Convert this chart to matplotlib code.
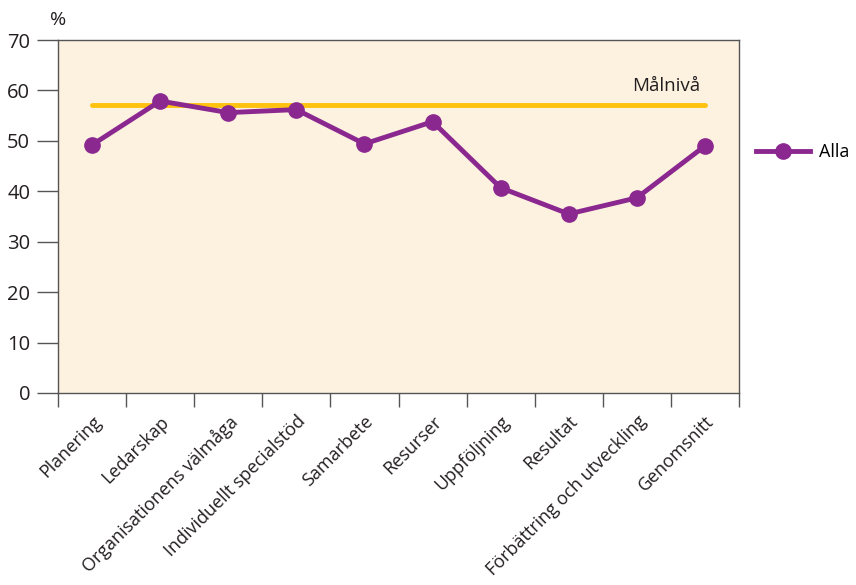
import matplotlib
matplotlib.use("Agg")
import matplotlib.pyplot as plt
from matplotlib.lines import Line2D

plt.rcParams['font.family'] = ['Open Sans', 'DejaVu Sans']

categories = ["Planering", "Ledarskap", "Organisationens välmåga", "Individuellt specialstöd",
              "Samarbete", "Resurser", "Uppföljning", "Resultat",
              "Förbättring och utveckling", "Genomsnitt"]
alla = [49.2, 57.9, 55.6, 56.2, 49.4, 53.8, 40.7, 35.5, 38.7, 49.0]
malniva = 57.1
yticks = [0, 10, 20, 30, 40, 50, 60, 70]

purple = "#8B2890"
gold = "#FFC20E"
bg = "#FDF1DF"
grey = "#555555"
textc = "#231F20"

fig = plt.figure(figsize=(8.56, 5.85), dpi=100)
ax = fig.add_axes([58/856, 1-393/585, (739-58)/856, (393-40)/585])
ax.set_facecolor(bg)

x = list(range(len(categories)))
ax.plot([x[0], x[-1]], [malniva, malniva], color=gold, lw=3.5, solid_capstyle='round', zorder=2)
line, = ax.plot(x, alla, color=purple, lw=3.5, marker='o', ms=11, zorder=3, label="Alla")
ax.text(x[-1] - 0.07, malniva + 1.9, "Målnivå", ha='right', va='bottom', fontsize=13.5, color=textc)

ax.set_xlim(-0.5, len(categories) - 0.5)
ax.set_ylim(0, 70)
ax.set_yticks(yticks)
ax.set_yticklabels([str(t) for t in yticks], fontsize=14.5, color=textc)
ax.set_xticks([i - 0.5 for i in range(len(categories) + 1)])
ax.set_xticklabels([])
ax.set_xticks(x, minor=True)
ax.set_xticklabels(categories, minor=True, rotation=45, ha='right', rotation_mode='anchor',
                   fontsize=13, color=textc)
ax.tick_params(axis='x', which='minor', length=0, pad=14)
ax.tick_params(axis='x', which='major', length=10, width=1, color=grey, direction='out')
ax.tick_params(axis='y', length=15, width=1, color=grey, direction='out', pad=5)
for s in ax.spines.values():
    s.set_color(grey)
    s.set_linewidth(1)

fig.text(50/856, 1-20/585, "%", fontsize=14, color=textc, ha='left', va='center')

fig.legend([line], ["Alla"], loc='center left', bbox_to_anchor=(756/856, 1-152/585),
           frameon=False, fontsize=13, handlelength=3.0, handletextpad=0.5,
           borderpad=0, borderaxespad=0)

fig.savefig("out.png", dpi=100)
